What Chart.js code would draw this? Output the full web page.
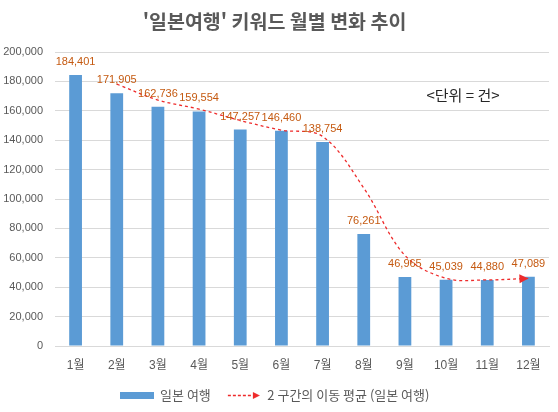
<!DOCTYPE html>
<html lang="ko">
<head>
<meta charset="utf-8">
<title>'일본여행' 키워드 월별 변화 추이</title>
<script src="https://cdn.jsdelivr.net/npm/chart.js@4.4.1/dist/chart.umd.min.js"></script>
<style>
  html, body { margin: 0; padding: 0; background: #fff; }
  #wrap { position: relative; width: 558px; height: 412px; }
</style>
</head>
<body>
<div id="wrap"><canvas id="chart"></canvas></div>
<script>
/* '일본여행' monthly keyword counts */

const months = ['1월', '2월', '3월', '4월', '5월', '6월', '7월', '8월', '9월', '10월', '11월', '12월'];
const searches = [184401, 171905, 162736, 159554, 147257, 146460, 138754, 76261, 46965, 45039, 44880, 47089];
// 2-period moving average as plotted (no value for the first month)
const movingAvg = [null, 178153, 167321, 161145, 153406, 146859, 142607, 107508, 61613, 46002, 44960, 45985];
const yMax = 200000;
const yStep = 20000;

const seriesName = '일본 여행';
const avgName = '2 구간의 이동 평균 (일본 여행)';
const unitNote = '<단위 = 건>';

const BAR_BLUE = '#5B9BD5';
const AVG_RED = '#EE2B2B';
const LABEL_ORANGE = '#C55A11';
const GREY_TEXT = '#595959';
const GRID = '#D9D9D9';

const fmt = v => v.toLocaleString('en-US');

Chart.defaults.font.family = "'Liberation Sans', 'Noto Sans CJK KR', sans-serif";
Chart.defaults.color = GREY_TEXT;

// legend swatches drawn onto small canvases and handed to the legend as point styles
function makeBarSwatch() {
  const c = document.createElement('canvas');
  c.width = 34; c.height = 9;
  const g = c.getContext('2d');
  g.fillStyle = BAR_BLUE;
  g.fillRect(0, 1, 34, 7);
  return c;
}
function makeLineSwatch() {
  const c = document.createElement('canvas');
  c.width = 34; c.height = 9;
  const g = c.getContext('2d');
  g.strokeStyle = AVG_RED;
  g.lineWidth = 1.3;
  g.setLineDash([3, 2]);
  g.beginPath(); g.moveTo(1, 4.5); g.lineTo(27, 4.5); g.stroke();
  g.fillStyle = AVG_RED;
  g.beginPath(); g.moveTo(26, 1); g.lineTo(33, 4.5); g.lineTo(26, 8); g.closePath(); g.fill();
  return c;
}
const barSwatch = makeBarSwatch();
const lineSwatch = makeLineSwatch();

// value labels above the bars, arrow head at the end of the moving average
const valueLabels = {
  id: 'valueLabels',
  afterDatasetsDraw(chart) {
    const ctx = chart.ctx;
    const bars = chart.getDatasetMeta(0).data;
    ctx.save();
    ctx.font = "11px 'Liberation Sans', sans-serif";
    ctx.fillStyle = LABEL_ORANGE;
    ctx.textAlign = 'center';
    ctx.textBaseline = 'middle';
    bars.forEach((bar, i) => ctx.fillText(fmt(searches[i]), bar.x, bar.y - 13));
    ctx.restore();

    const pts = chart.getDatasetMeta(1).data;
    const end = pts[pts.length - 1];
    const prev = pts[pts.length - 2];
    const fromX = end.cp1x !== undefined ? end.cp1x : prev.x;
    const fromY = end.cp1y !== undefined ? end.cp1y : prev.y;
    const ang = Math.atan2(end.y - fromY, end.x - fromX);
    ctx.save();
    ctx.translate(end.x, end.y);
    ctx.rotate(ang);
    ctx.fillStyle = AVG_RED;
    ctx.beginPath();
    ctx.moveTo(0, 0); ctx.lineTo(-9, -4.5); ctx.lineTo(-9, 4.5); ctx.closePath();
    ctx.fill();
    ctx.restore();
  },
  afterDraw(chart) {
    const ctx = chart.ctx;
    const area = chart.chartArea;
    ctx.save();
    ctx.font = "15px 'Noto Sans CJK KR', sans-serif";
    ctx.fillStyle = '#262626';
    ctx.textAlign = 'center';
    ctx.textBaseline = 'middle';
    ctx.fillText(unitNote, area.right - 86, area.top + 43);
    ctx.restore();
  }
};

new Chart(document.getElementById('chart'), {
  type: 'bar',
  data: {
    labels: months,
    datasets: [
      {
        label: seriesName,
        data: searches,
        backgroundColor: BAR_BLUE,
        barPercentage: 0.31,
        categoryPercentage: 1.0,
        order: 1
      },
      {
        type: 'line',
        label: avgName,
        data: movingAvg,
        borderColor: AVG_RED,
        borderWidth: 1.3,
        borderDash: [3, 3],
        pointRadius: 0,
        tension: 0.35,
        fill: false,
        order: 0
      }
    ]
  },
  options: {
    responsive: true,
    maintainAspectRatio: false,
    animation: false,
    layout: { padding: { top: 0, right: 9, bottom: 0, left: 0 } },
    plugins: {
      title: {
        display: true,
        text: "'일본여행' 키워드 월별 변화 추이",
        color: GREY_TEXT,
        font: { family: "'Noto Sans CJK KR', sans-serif", size: 19.5, weight: 'bold' },
        padding: { top: 10.3, bottom: 18.3 }
      },
      legend: {
        position: 'bottom',
        labels: {
          usePointStyle: true,
          pointStyleWidth: 34,
          padding: 16,
          color: GREY_TEXT,
          font: { family: "'Noto Sans CJK KR', sans-serif", size: 13 },
          sort: (a, b) => a.datasetIndex - b.datasetIndex,
          generateLabels: chart => Chart.defaults.plugins.legend.labels.generateLabels(chart)
            .map(item => ({ ...item, pointStyle: item.datasetIndex === 0 ? barSwatch : lineSwatch }))
        }
      },
      tooltip: { enabled: false }
    },
    scales: {
      x: {
        grid: { display: false, drawTicks: false },
        border: { display: true, color: GRID, width: 1 },
        ticks: { color: GREY_TEXT, font: { size: 12 }, padding: 12 },
        afterFit: s => { s.height = 27; }
      },
      y: {
        min: 0,
        max: yMax,
        border: { display: false },
        grid: { color: GRID, drawTicks: false },
        ticks: { stepSize: yStep, color: GREY_TEXT, font: { size: 11 }, padding: 12, callback: v => fmt(v) },
        afterFit: s => { s.width = 55; }
      }
    }
  },
  plugins: [valueLabels]
});
</script>
</body>
</html>
